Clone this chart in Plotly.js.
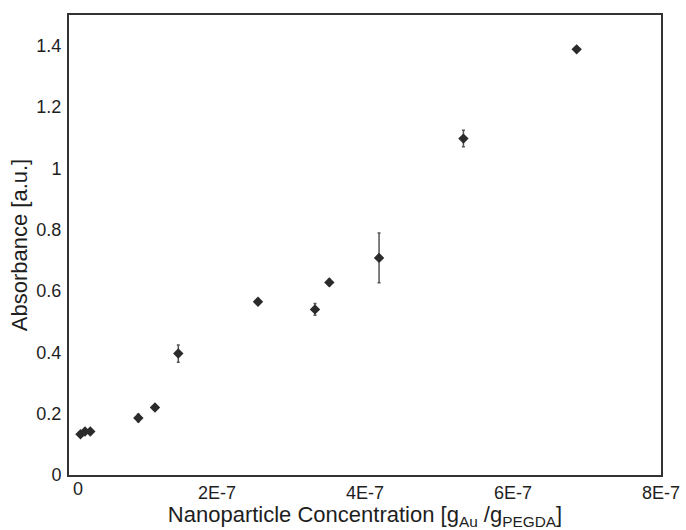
<!DOCTYPE html>
<html>
<head>
<meta charset="utf-8">
<script src="https://cdn.plot.ly/plotly-3.0.1.min.js"></script>
<style>html,body{margin:0;padding:0;background:#fff;}#chart{width:686px;height:530px;}</style>
</head>
<body>
<div id="chart"></div>
<script>
// Nanoparticle concentration [g_Au / g_PEGDA]
const concentration = [1.55e-8, 2.16e-8, 2.88e-8, 9.37e-8, 1.162e-7, 1.477e-7, 2.554e-7, 3.324e-7, 3.518e-7, 4.19e-7, 5.33e-7, 6.86e-7];
// Absorbance [a.u.]
const absorbance = [0.133, 0.142, 0.142, 0.186, 0.220, 0.396, 0.565, 0.540, 0.628, 0.708, 1.097, 1.388];
// Error (±)
const absorbanceErr = [0.006, 0.006, 0.006, 0.012, 0.008, 0.028, 0.008, 0.019, 0.010, 0.081, 0.027, 0.006];

const xZeroLabel = "0";
const xTickVals = [2e-7, 4e-7, 6e-7, 8e-7];
const xTickText = ["2E-7", "4E-7", "6E-7", "8E-7"];
const yTickVals = [0, 0.2, 0.4, 0.6, 0.8, 1.0, 1.2, 1.4];

const fontFam = "Liberation Sans, Arial, sans-serif";

const trace = {
  x: concentration,
  y: absorbance,
  type: "scatter",
  mode: "markers",
  marker: {symbol: "diamond", size: 8, color: "#2b2b2b"},
  error_y: {type: "data", array: absorbanceErr, visible: true, color: "#555", thickness: 1.5, width: 1.5},
  hoverinfo: "x+y"
};

const layout = {
  width: 686,
  height: 530,
  margin: {l: 69, r: 25, t: 15, b: 55},
  paper_bgcolor: "#fff",
  plot_bgcolor: "#fff",
  showlegend: false,
  font: {family: fontFam, color: "#1e1e1e", size: 18},
  xaxis: {
    range: [0, 8e-7],
    tickmode: "array",
    tickvals: xTickVals,
    ticktext: xTickText,
    ticks: "",
    showgrid: false,
    zeroline: false,
    showline: true,
    mirror: true,
    linecolor: "#333",
    linewidth: 2,
    tickfont: {family: fontFam, size: 18, color: "#1e1e1e"},
    title: {text: "Nanoparticle Concentration [g<sub>Au</sub> /g<sub>PEGDA</sub>]", font: {family: fontFam, size: 22, color: "#1e1e1e"}, standoff: 4}
  },
  yaxis: {
    range: [0, 1.5],
    tickmode: "array",
    tickvals: yTickVals,
    ticks: "",
    showgrid: false,
    zeroline: false,
    showline: true,
    mirror: true,
    linecolor: "#333",
    linewidth: 2,
    ticklabelstandoff: 2,
    tickfont: {family: fontFam, size: 18, color: "#1e1e1e"},
    title: {text: "Absorbance [a.u.]", font: {family: fontFam, size: 22, color: "#1e1e1e"}, standoff: 3}
  },
  annotations: [{
    x: 0, y: 0, xref: "x", yref: "paper",
    text: xZeroLabel, showarrow: false, xanchor: "center", yanchor: "top",
    xshift: 9, yshift: -2,
    font: {family: fontFam, size: 18, color: "#1e1e1e"}
  }]
};

Plotly.newPlot("chart", [trace], layout, {displayModeBar: false, staticPlot: true});
</script>
</body>
</html>
